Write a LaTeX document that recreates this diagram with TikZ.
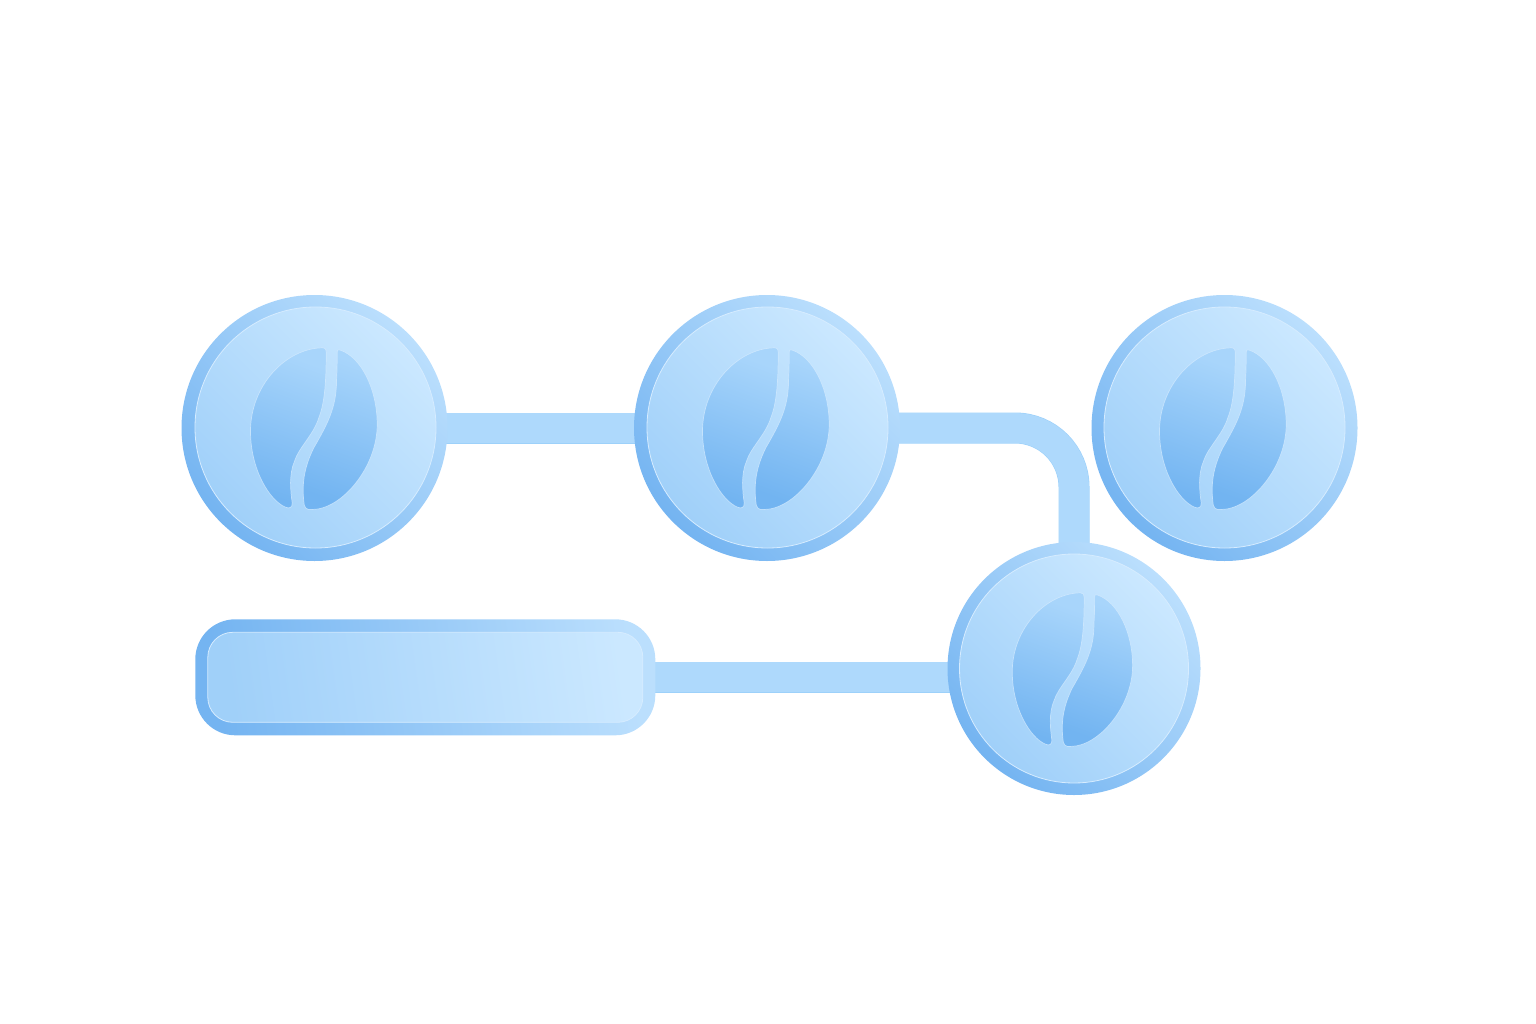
\documentclass[tikz,border=0pt]{standalone}
\usetikzlibrary{backgrounds}
\definecolor{ringA}{HTML}{74B4F1}
\definecolor{ringB}{HTML}{BBDFFD}
\definecolor{discA}{HTML}{A0D0F9}
\definecolor{discB}{HTML}{CBE8FF}
\definecolor{beanA}{HTML}{72B4F1}
\definecolor{beanB}{HTML}{A8D5FB}
\definecolor{linkEdge}{HTML}{9DD1FA}
\definecolor{linkFill}{HTML}{AED9FC}
\definecolor{glow}{HTML}{D6ECFF}
\tikzset{
  ring/.style={circle,inner sep=0pt,minimum size=#1,left color=ringA,right color=ringB,shading angle=135},
  disc/.style={circle,inner sep=0pt,minimum size=#1,draw=glow,line width=.8pt,left color=discA,right color=discB,shading angle=135},
  barouter/.style={rounded corners=40pt,left color=ringA,right color=ringB,shading angle=98,inner sep=0pt,minimum width=460pt,minimum height=116pt},
  barinner/.style={rounded corners=25pt,draw=glow,line width=.8pt,left color=discA,right color=discB,shading angle=98,inner sep=0pt,minimum width=435pt,minimum height=90pt},
  beanfill/.style={draw=glow,draw opacity=.7,line width=.7pt,left color=beanA,right color=beanB,shading angle=160},
  linkout/.style={draw=linkEdge,line width=31pt,line cap=butt,rounded corners=59pt},
  linkin/.style={draw=linkFill,line width=29.8pt,line cap=butt,rounded corners=59pt},
  pics/bean/.style={code={
    \path[beanfill] (10.7,-74.7) .. controls (10.7,-78) and (10,-79.7) .. (6.7,-79.7)
      .. controls (-30,-79) and (-65,-42) .. (-65,3.7)
      .. controls (-65,42) and (-46,73) .. (-30,79.7)
      .. controls (-26,81.5) and (-23,80) .. (-23.3,75.3)
      .. controls (-25,63.7) and (-26.7,47) .. (-21,33.7)
      .. controls (-16.7,20) and (-1.7,7) .. (3.3,-9.7)
      .. controls (10,-26) and (10.7,-53) .. (10.7,-74.7) -- cycle;
    \path[beanfill] (21.7,-74.7) .. controls (21.7,-78) and (23,-78.5) .. (25,-77.3)
      .. controls (46,-70) and (61.7,-38) .. (61.7,-3)
      .. controls (61.7,40) and (26,82) .. (-3.3,82)
      .. controls (-9,83) and (-11.7,80) .. (-11.7,73.7)
      .. controls (-14,53.7) and (-10,37) .. (-1.7,20.3)
      .. controls (11.7,-3) and (21,-20) .. (21,-46.3)
      .. controls (21.7,-60) and (21.7,-65) .. (21.7,-74.7) -- cycle;
  }}
}
\begin{document}
\begin{tikzpicture}[x=1pt,y=-1pt]
\useasboundingbox (0,0) rectangle (1536,1024);
\node[ring=266pt] (c1) at (314.5,428) {};
\node[disc=241pt] (d1) at (315.5,427.5) {};
\pic at (d1.center) {bean};
\node[ring=266pt] (c2) at (767,428) {};
\node[disc=241pt] (d2) at (767.5,427.5) {};
\pic at (d2.center) {bean};
\node[ring=266pt] (c3) at (1224.5,428) {};
\node[disc=241pt] (d3) at (1224.5,427.5) {};
\pic at (d3.center) {bean};
\node[ring=253pt] (c4) at (1074,668.5) {};
\node[disc=229pt] (d4) at (1074,668.5) {};
\pic[scale=.95] at (d4.center) {bean};
\node[barouter] (bo) at (425.3,677.3) {};
\node[barinner] (bi) at (425.3,677.3) {};
\begin{scope}[on background layer]
  \coordinate (kneeA) at (c4.center |- c2.center);
  \coordinate (barEnd) at (c4.center |- bo.center);
  \foreach \s in {linkout,linkin}{
    \draw[\s] (c1.center) -- (c2.center);
    \draw[\s] (c2.center) -- (kneeA) -- (c4.center);
    \draw[\s] (bo.center) -- (barEnd);
  }
\end{scope}
\end{tikzpicture}
\end{document}
